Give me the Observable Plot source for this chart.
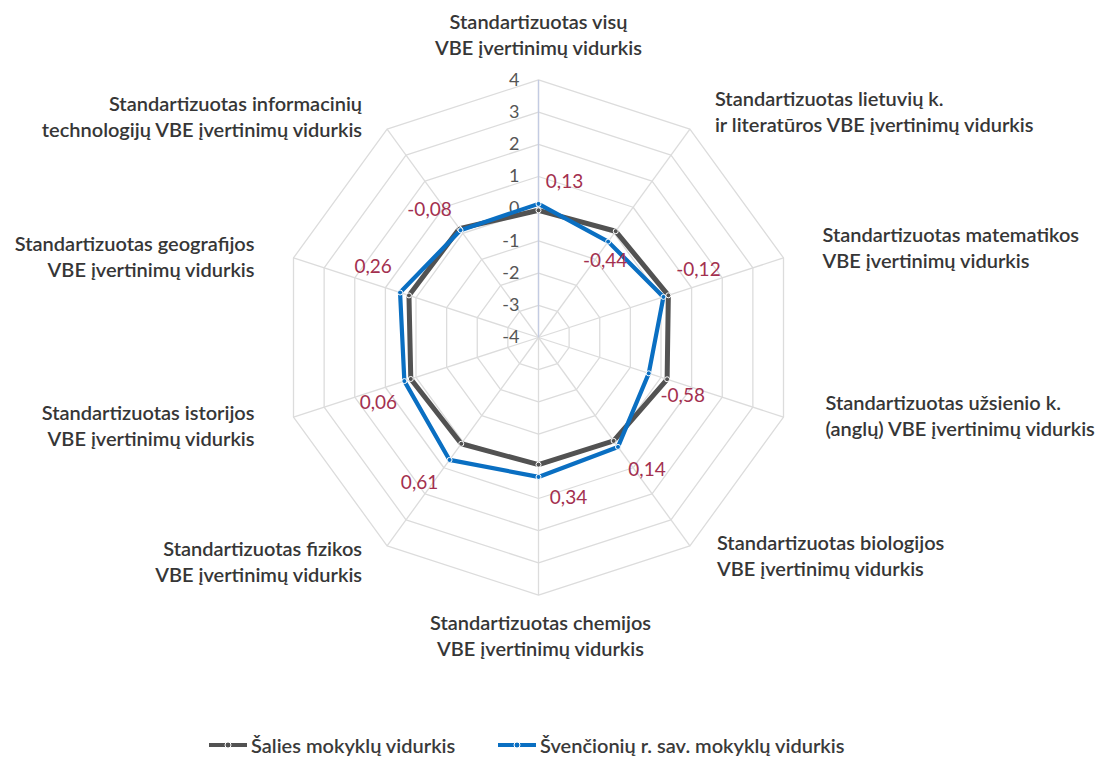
<!DOCTYPE html>
<html>
<head>
<meta charset="utf-8">
<script src="https://cdn.jsdelivr.net/npm/d3@7"></script>
<script src="https://cdn.jsdelivr.net/npm/@observablehq/plot@0.6"></script>
<style>
  body { margin: 0; background: #fff; font-family: Lato, "Open Sans", sans-serif; }
  #chart { width: 1104px; }
  #legend { position: relative; width: 1104px; height: 42px; }
  .item { position: absolute; top: 13px; display: flex; align-items: center; font-size: 20px; color: #3a3a3a; font-weight: 600; white-space: nowrap; }
  .item svg { margin-right: 3px; }
</style>
</head>
<body>
<div id="chart"></div>
<div id="legend"></div>
<script>
// ---------------- DATA ----------------
const categories = [
  "Standartizuotas visų\nVBE įvertinimų vidurkis",
  "Standartizuotas lietuvių k.\nir literatūros VBE įvertinimų vidurkis",
  "Standartizuotas matematikos\nVBE įvertinimų vidurkis",
  "Standartizuotas užsienio k.\n(anglų) VBE įvertinimų vidurkis",
  "Standartizuotas biologijos\nVBE įvertinimų vidurkis",
  "Standartizuotas chemijos\nVBE įvertinimų vidurkis",
  "Standartizuotas fizikos\nVBE įvertinimų vidurkis",
  "Standartizuotas istorijos\nVBE įvertinimų vidurkis",
  "Standartizuotas geografijos\nVBE įvertinimų vidurkis",
  "Standartizuotas informacinių\ntechnologijų VBE įvertinimų vidurkis"
];
const countryAvg  = [-0.05, 0.08, 0.24, 0.20, -0.03, -0.05, 0.08, 0.17, 0.23, 0.18];
const districtAvg = [0.15, -0.32, 0.08, -0.40, 0.20, 0.33, 0.70, 0.38, 0.52, 0.12];
const valueLabels = ["0,13", "-0,44", "-0,12", "-0,58", "0,14", "0,34", "0,61", "0,06", "0,26", "-0,08"];
const tickValues = [-4, -3, -2, -1, 0, 1, 2, 3, 4];
const seriesNames = ["Šalies mokyklų vidurkis", "Švenčionių r. sav. mokyklų vidurkis"];

// ---------------- LAYOUT ----------------
const W = 1104, H = 720;
const cx = 538, cy = 337, unit = 32.2;        // centre of the radar and px per value unit
const colors = { country: "#525252", district: "#0a6fc2", grid: "#dcdcdc", axis: "#c3cbe2", value: "#a3304f", text: "#363636", tick: "#555" };
// pixel nudges of category labels from the outer-ring vertex, with text anchor
const catNudge = [
  [0, -46, "middle"], [25, -18, "start"], [39, -11, "start"], [42, -2, "start"], [27, 9, "start"],
  [2, 40, "middle"], [-25, 15, "end"], [-39, 8, "end"], [-39, -2, "end"], [-25, -13, "end"]
];
// pixel nudges of value labels from the district series points
const valNudge = [[26, -22], [-3, 19], [35, -27], [34, 23], [29, 23], [30, 21], [-30, 23], [-26, 22], [-27, -26], [-31, -20]];

const n = categories.length;
const ang = i => i * 2 * Math.PI / n;
const rad = v => v + 4;                       // radial distance (value units) from centre
const X = (i, v) => rad(v) * Math.sin(ang(i));
const Y = (i, v) => rad(v) * Math.cos(ang(i));

// rings
const rings = [];
for (const t of tickValues) if (t > -4) for (let i = 0; i < n; i++) rings.push({t, x: X(i, t), y: Y(i, t)});
const spokes = categories.map((c, i) => ({x1: 0, y1: 0, x2: X(i, 4), y2: Y(i, 4)}));

const series = [];
categories.forEach((c, i) => series.push({s: seriesNames[0], i, x: X(i, countryAvg[i]), y: Y(i, countryAvg[i])}));
categories.forEach((c, i) => series.push({s: seriesNames[1], i, x: X(i, districtAvg[i]), y: Y(i, districtAvg[i])}));

const catLabels = categories.map((c, i) => ({
  text: c, anchor: catNudge[i][2],
  x: X(i, 4) + catNudge[i][0] / unit,
  y: Y(i, 4) - catNudge[i][1] / unit
}));
const valLabelData = valueLabels.map((t, i) => ({
  text: t,
  x: X(i, districtAvg[i]) + valNudge[i][0] / unit,
  y: Y(i, districtAvg[i]) - valNudge[i][1] / unit
}));

const font = {fontFamily: "Lato, 'Open Sans', sans-serif"};
const catText = anchor => Plot.text(catLabels.filter(d => d.anchor === anchor), {
  x: "x", y: "y", text: "text", textAnchor: anchor, lineAnchor: "middle", lineHeight: 1.3,
  fontSize: 20, fontWeight: 600, fill: colors.text, ...font
});

const chart = Plot.plot({
  width: W, height: H,
  marginTop: 0, marginRight: 0, marginBottom: 0, marginLeft: 0,
  x: {domain: [-cx / unit, (W - cx) / unit], range: [0, W], axis: null},
  y: {domain: [-(H - cy) / unit, cy / unit], range: [H, 0], axis: null},
  style: {background: "#fff", overflow: "visible"},
  marks: [
    Plot.line(rings, {x: "x", y: "y", z: "t", curve: "linear-closed", stroke: colors.grid, strokeWidth: 1.3}),
    Plot.link(spokes, {x1: "x1", y1: "y1", x2: "x2", y2: "y2", stroke: colors.grid, strokeWidth: 1.3}),
    Plot.link([{x1: 0, y1: 0, x2: 0, y2: rad(4)}], {x1: "x1", y1: "y1", x2: "x2", y2: "y2", stroke: colors.axis, strokeWidth: 1.3}),
    Plot.text(tickValues, {x: 0, y: t => rad(t), text: t => String(t), textAnchor: "end", dx: -19, fontSize: 18, fill: colors.tick, ...font}),
    Plot.line(series.filter(d => d.s === seriesNames[0]), {x: "x", y: "y", curve: "linear-closed", stroke: colors.country, strokeWidth: 5, strokeLinejoin: "miter"}),
    Plot.line(series.filter(d => d.s === seriesNames[1]), {x: "x", y: "y", curve: "linear-closed", stroke: colors.district, strokeWidth: 4.2, strokeLinejoin: "miter"}),
    Plot.dot(series.filter(d => d.s === seriesNames[0]), {x: "x", y: "y", r: 2.5, fill: colors.country, stroke: "#fff", strokeWidth: 1}),
    Plot.dot(series.filter(d => d.s === seriesNames[1]), {x: "x", y: "y", r: 2.5, fill: colors.district, stroke: "#fff", strokeWidth: 1}),
    Plot.text(valLabelData, {x: "x", y: "y", text: "text", fontSize: 19, fill: colors.value, ...font}),
    catText("middle"), catText("start"), catText("end")
  ]
});
document.getElementById("chart").appendChild(chart);

// ---------------- LEGEND ----------------
const legend = document.getElementById("legend");
const legendLeft = [208, 497];
const legendColors = [colors.country, colors.district];
seriesNames.forEach((name, k) => {
  const item = document.createElement("div");
  item.className = "item";
  item.style.left = legendLeft[k] + "px";
  item.innerHTML = `<svg width="40" height="12"><line x1="1" y1="6" x2="39" y2="6" stroke="${legendColors[k]}" stroke-width="4"/><circle cx="20" cy="6" r="3" fill="${legendColors[k]}" stroke="#fff" stroke-width="1"/></svg><span>${name}</span>`;
  legend.appendChild(item);
});
</script>
</body>
</html>
